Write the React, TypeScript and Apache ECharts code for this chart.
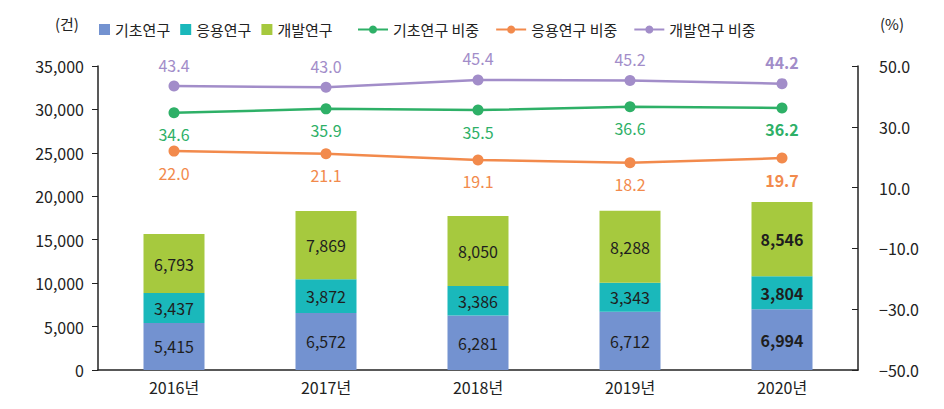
import React, { useEffect, useRef } from "react";
import * as echarts from "echarts";

const categories = ["2016년", "2017년", "2018년", "2019년", "2020년"];
const basic = [5415, 6572, 6281, 6712, 6994];
const applied = [3437, 3872, 3386, 3343, 3804];
const develop = [6793, 7869, 8050, 8288, 8546];
const basicPct = [34.6, 35.9, 35.5, 36.6, 36.2];
const appliedPct = [22.0, 21.1, 19.1, 18.2, 19.7];
const developPct = [43.4, 43.0, 45.4, 45.2, 44.2];

const FONT = "'Noto Sans CJK KR', Roboto, sans-serif";

const C_BLUE = "#7392d0";
const C_TEAL = "#1ab8bb";
const C_LIME = "#a6c93e";
const C_GREEN = "#2eb067";
const C_ORANGE = "#f28a4c";
const C_PURPLE = "#a28dc9";

function fmtNum(v: number) {
  return v.toLocaleString("en-US");
}
function fmtPct(v: number) {
  const s = Math.abs(v).toFixed(1);
  return v < 0 ? "−" + s : s;
}

export default function App() {
  const ref = useRef<HTMLDivElement>(null);
  useEffect(() => {
    if (!ref.current) return;
    const chart = echarts.init(ref.current, null, { renderer: "svg" });
    const last = categories.length - 1;
    const barSeries = (name: string, data: number[], color: string) => ({
      name,
      type: "bar",
      stack: "total",
      barWidth: 61,
      yAxisIndex: 0,
      itemStyle: { color },
      data: data.map((v, i) => ({
        value: v,
        label: i === last ? { fontWeight: "bold" } : undefined,
      })),
      label: {
        show: true,
        position: "inside",
        color: "#1e1e1e",
        fontSize: 16,
        fontFamily: FONT,
        formatter: (p: any) => fmtNum(p.value),
      },
    });
    const lineSeries = (
      name: string,
      data: number[],
      color: string,
      pos: string
    ) => ({
      name,
      type: "line",
      yAxisIndex: 1,
      symbol: "circle",
      symbolSize: 11,
      lineStyle: { color, width: 2.5 },
      itemStyle: { color },
      data: data.map((v, i) => ({
        value: v,
        label: i === last ? { fontWeight: "bold" } : undefined,
      })),
      label: {
        show: true,
        position: pos,
        distance: 8,
        color,
        fontSize: 16,
        fontFamily: FONT,
        formatter: (p: any) => p.value.toFixed(1),
      },
    });
    chart.setOption({
      animation: false,
      textStyle: { fontFamily: FONT },
      grid: { left: 98, right: 86, top: 66, bottom: 39 },
      legend: [
        {
          left: 94,
          top: 17,
          itemWidth: 11,
          itemHeight: 11,
          itemGap: 10,
          icon: "rect",
          textStyle: { fontSize: 15, color: "#222", fontFamily: FONT },
          data: ["기초연구", "응용연구", "개발연구"],
        },
        {
          left: 352,
          top: 17,
          itemWidth: 30,
          itemHeight: 10,
          itemGap: 16,
          textStyle: { fontSize: 15, color: "#222", fontFamily: FONT },
          data: ["기초연구 비중", "응용연구 비중", "개발연구 비중"],
        },
      ],
      graphic: [
        {
          type: "text",
          left: 55,
          top: 16,
          style: { text: "(건)", fontSize: 15, fill: "#222", fontFamily: FONT },
        },
        {
          type: "text",
          left: 880,
          top: 16,
          style: { text: "(%)", fontSize: 15, fill: "#222", fontFamily: FONT },
        },
      ],
      xAxis: {
        type: "category",
        data: categories,
        axisLine: { lineStyle: { color: "#222", width: 1.5 } },
        axisTick: { show: false },
        axisLabel: { fontSize: 16, color: "#222", margin: 9, fontFamily: FONT },
      },
      yAxis: [
        {
          type: "value",
          min: 0,
          max: 35000,
          interval: 5000,
          splitLine: { show: false },
          axisLine: { show: true, lineStyle: { color: "#222", width: 1.5 } },
          axisTick: { show: true, length: 6, lineStyle: { color: "#222" } },
          axisLabel: {
            fontSize: 16,
            color: "#222",
            margin: 14,
            fontFamily: FONT,
            formatter: (v: number) => fmtNum(v),
          },
        },
        {
          type: "value",
          position: "right",
          min: -50,
          max: 50,
          interval: 20,
          splitLine: { show: false },
          axisLine: { show: true, lineStyle: { color: "#222", width: 1.5 } },
          axisTick: {
            show: true,
            inside: true,
            length: 6,
            lineStyle: { color: "#222" },
          },
          axisLabel: {
            fontSize: 16,
            color: "#222",
            margin: 21,
            fontFamily: FONT,
            formatter: (v: number) => fmtPct(v),
          },
        },
      ],
      series: [
        barSeries("기초연구", basic, C_BLUE),
        barSeries("응용연구", applied, C_TEAL),
        barSeries("개발연구", develop, C_LIME),
        lineSeries("기초연구 비중", basicPct, C_GREEN, "bottom"),
        lineSeries("응용연구 비중", appliedPct, C_ORANGE, "bottom"),
        lineSeries("개발연구 비중", developPct, C_PURPLE, "top"),
      ],
    });
    return () => chart.dispose();
  }, []);
  return <div ref={ref} style={{ width: 944, height: 409, margin: -8 }} />;
}
